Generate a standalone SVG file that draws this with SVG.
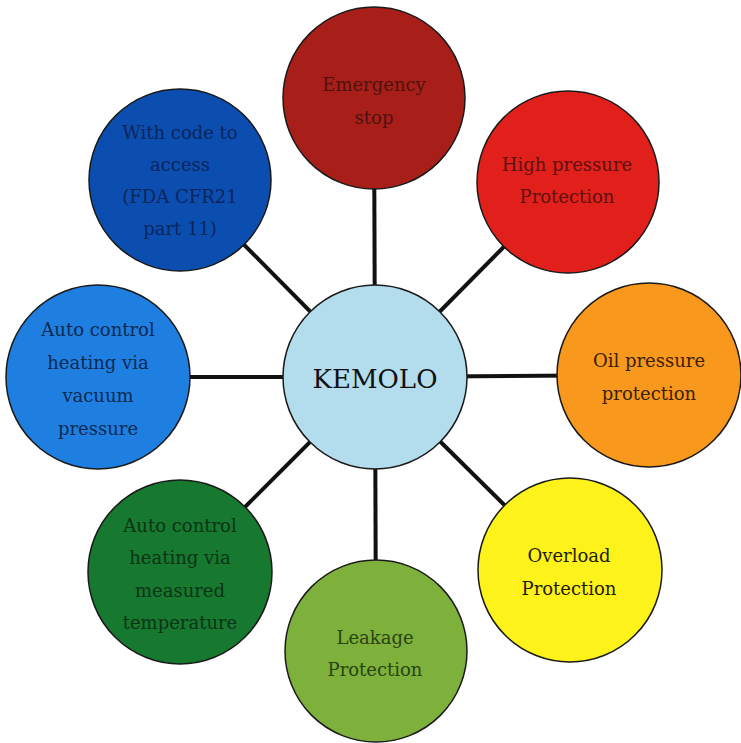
<svg xmlns="http://www.w3.org/2000/svg" width="741" height="743" viewBox="0 0 741 743">
<style>
.node circle{stroke:#1a1a1a;stroke-width:1.5}
.lbl{font-family:'DejaVu Serif','Liberation Serif',serif;font-size:18px;text-anchor:middle}
.big{font-size:26px}
.conn line{stroke:#111;stroke-width:4}
</style>
<rect width="741" height="743" fill="#ffffff"/>
<g class="conn">
<line x1="375" y1="377" x2="374" y2="98"/>
<line x1="375" y1="377" x2="568" y2="182"/>
<line x1="375" y1="377" x2="649" y2="375"/>
<line x1="375" y1="377" x2="570" y2="570"/>
<line x1="375" y1="377" x2="376" y2="651"/>
<line x1="375" y1="377" x2="180" y2="572"/>
<line x1="375" y1="377" x2="98" y2="377"/>
<line x1="375" y1="377" x2="180" y2="180"/>
</g>
<g id="center" class="node"><circle cx="375" cy="377" r="92" fill="#b3dcec"/><text class="lbl big" x="375" y="388" fill="#111">KEMOLO</text></g>
<g id="emergency" class="node"><circle cx="374" cy="98" r="91" fill="#a81f1a"/><text class="lbl" fill="#4e120e"><tspan x="374" y="91">Emergency</tspan><tspan x="374" y="124">stop</tspan></text></g>
<g id="highpressure" class="node"><circle cx="568" cy="182" r="91" fill="#e2201b"/><text class="lbl" fill="#5e100e"><tspan x="567" y="171">High pressure</tspan><tspan x="567" y="203">Protection</tspan></text></g>
<g id="oil" class="node"><circle cx="649" cy="375" r="92" fill="#f8981c"/><text class="lbl" fill="#3a2200"><tspan x="649" y="367">Oil pressure</tspan><tspan x="649" y="400">protection</tspan></text></g>
<g id="overload" class="node"><circle cx="570" cy="570" r="92" fill="#fef21b"/><text class="lbl" fill="#1e1c00"><tspan x="569" y="562">Overload</tspan><tspan x="569" y="595">Protection</tspan></text></g>
<g id="leakage" class="node"><circle cx="376" cy="651" r="91" fill="#7db13b"/><text class="lbl" fill="#2a4410"><tspan x="375" y="644">Leakage</tspan><tspan x="375" y="676">Protection</tspan></text></g>
<g id="measured" class="node"><circle cx="180" cy="572" r="92" fill="#17782f"/><text class="lbl" fill="#0a3415"><tspan x="180" y="532">Auto control</tspan><tspan x="180" y="564">heating via</tspan><tspan x="180" y="597">measured</tspan><tspan x="180" y="629">temperature</tspan></text></g>
<g id="vacuum" class="node"><circle cx="98" cy="377" r="92" fill="#1f7fe0"/><text class="lbl" fill="#0b2a52"><tspan x="98" y="336">Auto control</tspan><tspan x="98" y="369">heating via</tspan><tspan x="98" y="402">vacuum</tspan><tspan x="98" y="435">pressure</tspan></text></g>
<g id="code" class="node"><circle cx="180" cy="180" r="91" fill="#0c4db0"/><text class="lbl" fill="#0a265c"><tspan x="180" y="139">With code to</tspan><tspan x="180" y="171">access</tspan><tspan x="180" y="203">(FDA CFR21</tspan><tspan x="180" y="235">part 11)</tspan></text></g>
</svg>
